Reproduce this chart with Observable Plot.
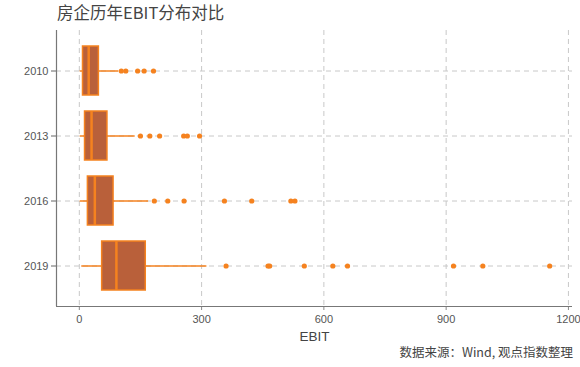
<!DOCTYPE html>
<html>
<head>
<meta charset="utf-8">
<script src="https://cdn.jsdelivr.net/npm/d3@7"></script>
<script src="https://cdn.jsdelivr.net/npm/@observablehq/plot@0.6"></script>
<style>
  html, body { margin: 0; padding: 0; background: #fff; }
  #wrap { position: relative; width: 580px; height: 367px; overflow: hidden; }
  #title { position: absolute; left: 57px; top: 0px; font: 16.5px "Noto Sans CJK SC", sans-serif; color: #444; line-height: 24px; }
  #caption { position: absolute; right: 7px; top: 343px; font: 12.5px "Noto Sans CJK SC", sans-serif; color: #444; line-height: 18px; }
  #chart { position: absolute; left: 0; top: 28px; }
</style>
</head>
<body>
<div id="wrap">
  <div id="title">房企历年EBIT分布对比</div>
  <div id="chart"></div>
  <div id="caption">数据来源：Wind, 观点指数整理</div>
</div>
<script>
const years = ["2010", "2013", "2016", "2019"];
const mins = [2, 2, 2, 6];
const q1s = [9, 14, 21, 56];
const medians = [23, 30, 38, 91];
const q3s = [48, 69, 84, 163];
const maxs = [97, 137, 170, 313];
const outliers2010 = [103, 114, 143, 159, 182];
const outliers2013 = [150, 173, 197, 256, 265, 295];
const outliers2016 = [184, 217, 257, 356, 423, 519, 529];
const outliers2019 = [360, 463, 467, 552, 622, 658, 918, 990, 1154];
const xTicks = [0, 300, 600, 900, 1200];

const summary = years.map((y, i) => ({year: y, min: mins[i], q1: q1s[i], med: medians[i], q3: q3s[i], max: maxs[i]}));
const outlierLists = [outliers2010, outliers2013, outliers2016, outliers2019];
const outliers = outlierLists.flatMap((arr, i) => arr.map(v => ({year: years[i], value: v})));

const boxFill = "#b9603a";
const orange = "#f5821f";
const grid = "#c8c8c8";

const chart = Plot.plot({
  width: 580,
  height: 317,
  marginTop: 2,
  marginBottom: 39,
  marginLeft: 56,
  marginRight: 8,
  style: {fontFamily: "'Liberation Sans', Arial, sans-serif", fontSize: "11px", color: "#555", background: "#fff", overflow: "visible"},
  x: {domain: [-56, 1210], ticks: xTicks, label: null},
  y: {domain: years, paddingInner: 0.242, paddingOuter: 0.212, label: null},
  marks: [
    Plot.ruleX(xTicks, {stroke: grid, strokeDasharray: "5,4", strokeWidth: 1}),
    Plot.ruleY(years, {y: d => d, stroke: grid, strokeDasharray: "5,4", strokeWidth: 1}),
    Plot.ruleY(summary, {y: "year", x1: "min", x2: "max", stroke: orange, strokeWidth: 1.3}),
    Plot.barX(summary, {y: "year", x1: "q1", x2: "q3", fill: boxFill, stroke: orange, strokeWidth: 1.5}),
    Plot.tickX(summary, {y: "year", x: "med", stroke: orange, strokeWidth: 2.5}),
    Plot.dot(outliers, {y: "year", x: "value", r: 2.6, fill: orange, stroke: "none"}),
    Plot.axisX({ticks: xTicks, tickFormat: d => String(d), tickSize: 4, tickPadding: 5, stroke: "#888", color: "#555", fontSize: 11, label: null}),
    Plot.axisY({tickSize: 5, tickPadding: 3, stroke: "#666", color: "#555", fontSize: 11, label: null}),
    Plot.ruleX([-56], {stroke: "#777", strokeWidth: 1.2}),
    Plot.text(["EBIT"], {frameAnchor: "bottom", dy: 34, fontSize: 13.5, fill: "#444", text: d => d})
  ]
});
const svg = d3.select(chart);
svg.append("line").attr("x1", 56).attr("x2", 572).attr("y1", 278.5).attr("y2", 278.5).attr("stroke", "#777").attr("stroke-width", 1.2);
document.getElementById("chart").appendChild(chart);
</script>
</body>
</html>
